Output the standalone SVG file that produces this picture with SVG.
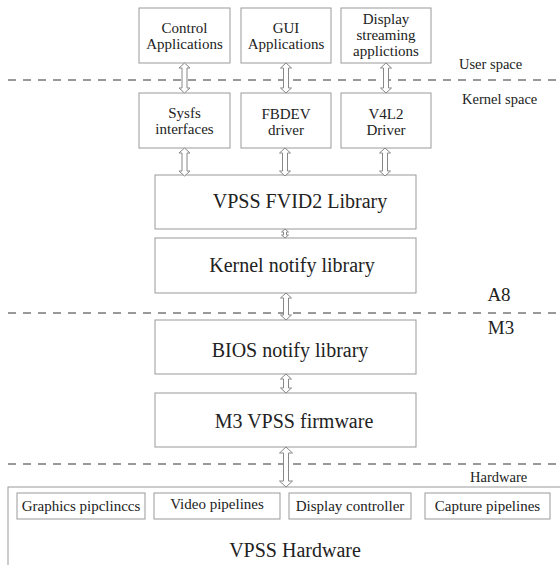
<svg xmlns="http://www.w3.org/2000/svg" width="560" height="565" viewBox="0 0 560 565">
<style>
.box{fill:#fff;stroke:#999;stroke-width:1}
.t{font-family:'Liberation Serif','Times New Roman',Times,serif;fill:#222;text-anchor:middle}
.s{font-size:15px}
.l{font-size:19px}
.xl{font-size:20px}
.lab{font-family:'Liberation Serif','Times New Roman',Times,serif;fill:#222;font-size:14.5px}
.dash{stroke:#333;stroke-width:1;stroke-dasharray:8 7;fill:none}
.arr{fill:#fff;stroke:#888;stroke-width:1}
</style>
<g id="separators">
<line class="dash" x1="8" y1="80" x2="560" y2="80"/>
<line class="dash" x1="8" y1="313" x2="560" y2="313"/>
<line class="dash" x1="8" y1="464" x2="560" y2="464"/>
<text class="lab" x="459" y="69">User space</text>
<text class="lab" x="462" y="104">Kernel space</text>
<text class="t l" x="499" y="301">A8</text>
<text class="t l" x="501" y="334">M3</text>
<text class="lab" x="470" y="482">Hardware</text>
</g>
<g id="control-apps"><rect class="box" x="139" y="8" width="91" height="55"/><text class="t s" x="184.5" y="33">Control</text><text class="t s" x="184.5" y="49">Applications</text></g>
<g id="gui-apps"><rect class="box" x="241" y="8" width="90" height="55"/><text class="t s" x="286" y="33">GUI</text><text class="t s" x="286" y="49">Applications</text></g>
<g id="display-apps"><rect class="box" x="341" y="8" width="90" height="55"/><text class="t s" x="386" y="24">Display</text><text class="t s" x="386" y="40">streaming</text><text class="t s" x="386" y="56">applictions</text></g>
<g id="sysfs"><rect class="box" x="139" y="93" width="91" height="55"/><text class="t s" x="184.5" y="118">Sysfs</text><text class="t s" x="184.5" y="134">interfaces</text></g>
<g id="fbdev"><rect class="box" x="241" y="93" width="90" height="55"/><text class="t s" x="286" y="119">FBDEV</text><text class="t s" x="286" y="135">driver</text></g>
<g id="v4l2"><rect class="box" x="341" y="93" width="90" height="55"/><text class="t s" x="386" y="119">V4L2</text><text class="t s" x="386" y="135">Driver</text></g>
<g id="fvid2"><rect class="box" x="155" y="175" width="261" height="54"/><text class="t xl" x="300" y="208">VPSS FVID2 Library</text></g>
<g id="kernel-notify"><rect class="box" x="155" y="238" width="261" height="55"/><text class="t xl" x="292" y="272">Kernel notify library</text></g>
<g id="bios-notify"><rect class="box" x="155" y="320" width="261" height="54"/><text class="t xl" x="290" y="357">BIOS notify library</text></g>
<g id="m3-firmware"><rect class="box" x="155" y="393" width="261" height="54"/><text class="t xl" x="294" y="428">M3 VPSS firmware</text></g>
<g id="vpss-hardware">
<rect class="box" x="8" y="487" width="570" height="100"/>
<text class="t xl" x="295" y="557">VPSS Hardware</text>
</g>
<g id="graphics"><rect class="box" x="17" y="493" width="128" height="26"/><text class="t s" x="81" y="511">Graphics pipclinccs</text></g>
<g id="video"><rect class="box" x="154" y="493" width="126" height="26"/><text class="t s" x="217" y="509">Video pipelines</text></g>
<g id="display-ctrl"><rect class="box" x="289" y="493" width="122" height="26"/><text class="t s" x="350" y="511">Display controller</text></g>
<g id="capture"><rect class="box" x="425" y="493" width="125" height="26"/><text class="t s" x="487.5" y="511">Capture pipelines</text></g>
<g id="connectors">
<path class="arr" d="M184.5,63 l5.5,5 h-3 V88 h3 l-5.5,5 l-5.5,-5 h3 V68 h-3 Z"/>
<path class="arr" d="M286,63 l5.5,5 h-3 V88 h3 l-5.5,5 l-5.5,-5 h3 V68 h-3 Z"/>
<path class="arr" d="M386,63 l5.5,5 h-3 V88 h3 l-5.5,5 l-5.5,-5 h3 V68 h-3 Z"/>
<path class="arr" d="M184.5,148 l5.5,5 h-3 V171 h3 l-5.5,5 l-5.5,-5 h3 V153 h-3 Z"/>
<path class="arr" d="M285,148 l5.5,5 h-3 V171 h3 l-5.5,5 l-5.5,-5 h3 V153 h-3 Z"/>
<path class="arr" d="M385,148 l5.5,5 h-3 V171 h3 l-5.5,5 l-5.5,-5 h3 V153 h-3 Z"/>
<path class="arr" d="M285,229 l3.5,3 h-2 V235 h2 l-3.5,3 l-3.5,-3 h2 V232 h-2 Z"/>
<path class="arr" d="M286,293 l5.5,5 h-3 V315 h3 l-5.5,5 l-5.5,-5 h3 V298 h-3 Z"/>
<path class="arr" d="M286,374 l5.5,5 h-3 V388 h3 l-5.5,5 l-5.5,-5 h3 V379 h-3 Z"/>
<path class="arr" d="M286,447 l6.5,6 h-4 V481 h4 l-6.5,6 l-6.5,-6 h4 V453 h-4 Z"/>
</g>
</svg>
